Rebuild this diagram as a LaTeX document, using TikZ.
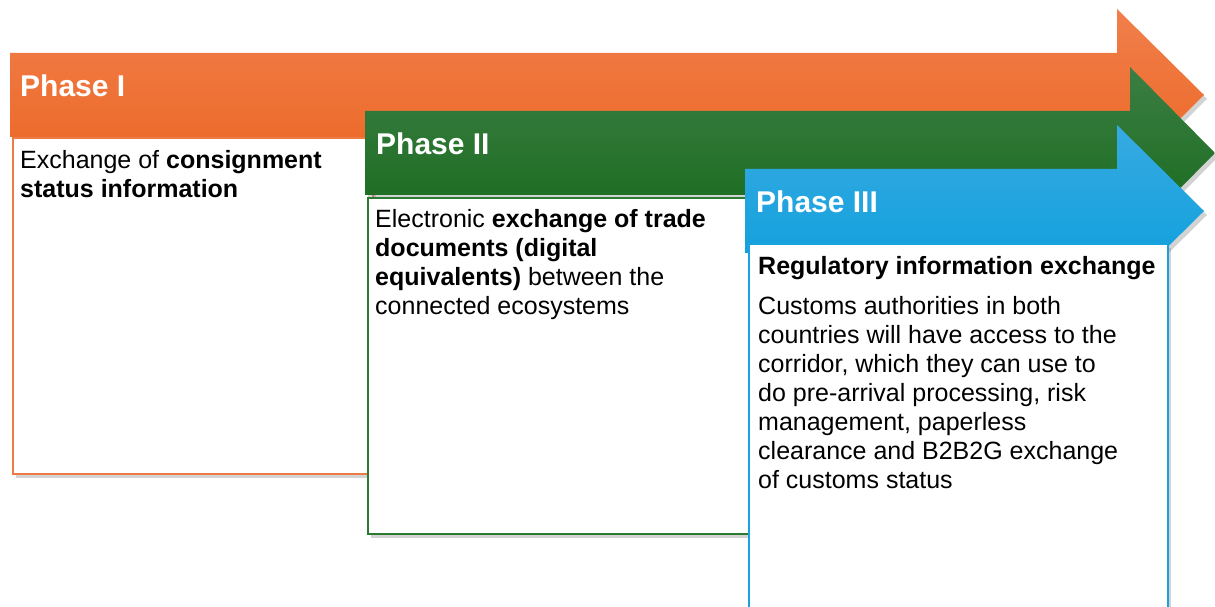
\documentclass[tikz,border=0pt]{standalone}
\usepackage{fontspec}
\setmainfont{Liberation Sans}
\usetikzlibrary{shadows}
\definecolor{oneTop}{HTML}{F17F4C}
\definecolor{oneBot}{HTML}{EB6521}
\definecolor{oneLine}{HTML}{EE7A45}
\definecolor{twoTop}{HTML}{3C7E44}
\definecolor{twoBot}{HTML}{15691A}
\definecolor{twoLine}{HTML}{2A7A30}
\definecolor{threeTop}{HTML}{38AAE2}
\definecolor{threeBot}{HTML}{079EDB}
\definecolor{threeLine}{HTML}{1AA2DF}
\begin{document}
\begin{tikzpicture}[x=1pt,y=1pt,
    shade/.style={drop shadow={opacity=0.35,shadow xshift=3pt,shadow yshift=-4pt}},
    phase/.style={anchor=base west,inner sep=0pt,text=white,font=\fontsize{30}{36}\selectfont\bfseries},
    panel/.style={shade,fill=white,line width=1.6pt,anchor=north west,inner sep=0pt},
    body/.style={anchor=north west,inner sep=0pt,align=left,font=\fontsize{25}{29}\selectfont}]
\useasboundingbox (0,0) rectangle (1215,606);
% Phase I
\path[shade,top color=oneTop,bottom color=oneBot] (10,553) -- (1117,553) -- (1117,597) -- (1204,511) -- (1117,425) -- (1117,469) -- (10,469) -- cycle;
\node[phase] (ph1) at (20,509) {Phase I};
\node[panel,draw=oneLine,minimum width=360,minimum height=336] (box1) at (12,469) {};
\node[body] (txt1) at ([xshift=8pt,yshift=-13pt]box1.north west)
    {Exchange of \textbf{consignment}\\ \textbf{status information}};
% Phase II
\path[shade,top color=twoTop,bottom color=twoBot] (365,495) -- (1130,495) -- (1130,539) -- (1215,453) -- (1130,367) -- (1130,411) -- (365,411) -- cycle;
\node[phase] (ph2) at (376,451) {Phase II};
\node[panel,draw=twoLine,minimum width=385,minimum height=336] (box2) at (367,409) {};
\node[body] (txt2) at ([xshift=8pt,yshift=-12pt]box2.north west)
    {Electronic \textbf{exchange of trade}\\ \textbf{documents (digital}\\ \textbf{equivalents)} between the\\ connected ecosystems};
% Phase III
\path[shade,top color=threeTop,bottom color=threeBot] (745,437) -- (1117,437) -- (1117,481) -- (1204,395) -- (1117,309) -- (1117,353) -- (745,353) -- cycle;
\node[phase] (ph3) at (756,393) {Phase III};
\node[panel,draw=threeLine,minimum width=419,minimum height=375] (box3) at (748,363) {};
\node[body,font=\fontsize{25}{29}\selectfont\bfseries] (head3) at ([xshift=10pt,yshift=-13pt]box3.north west)
    {Regulatory information exchange};
\node[body] (txt3) at ([xshift=10pt,yshift=-53pt]box3.north west)
    {Customs authorities in both\\ countries will have access to the\\ corridor, which they can use to\\ do pre-arrival processing, risk\\ management, paperless\\ clearance and B2B2G exchange\\ of customs status};
\end{tikzpicture}
\end{document}
